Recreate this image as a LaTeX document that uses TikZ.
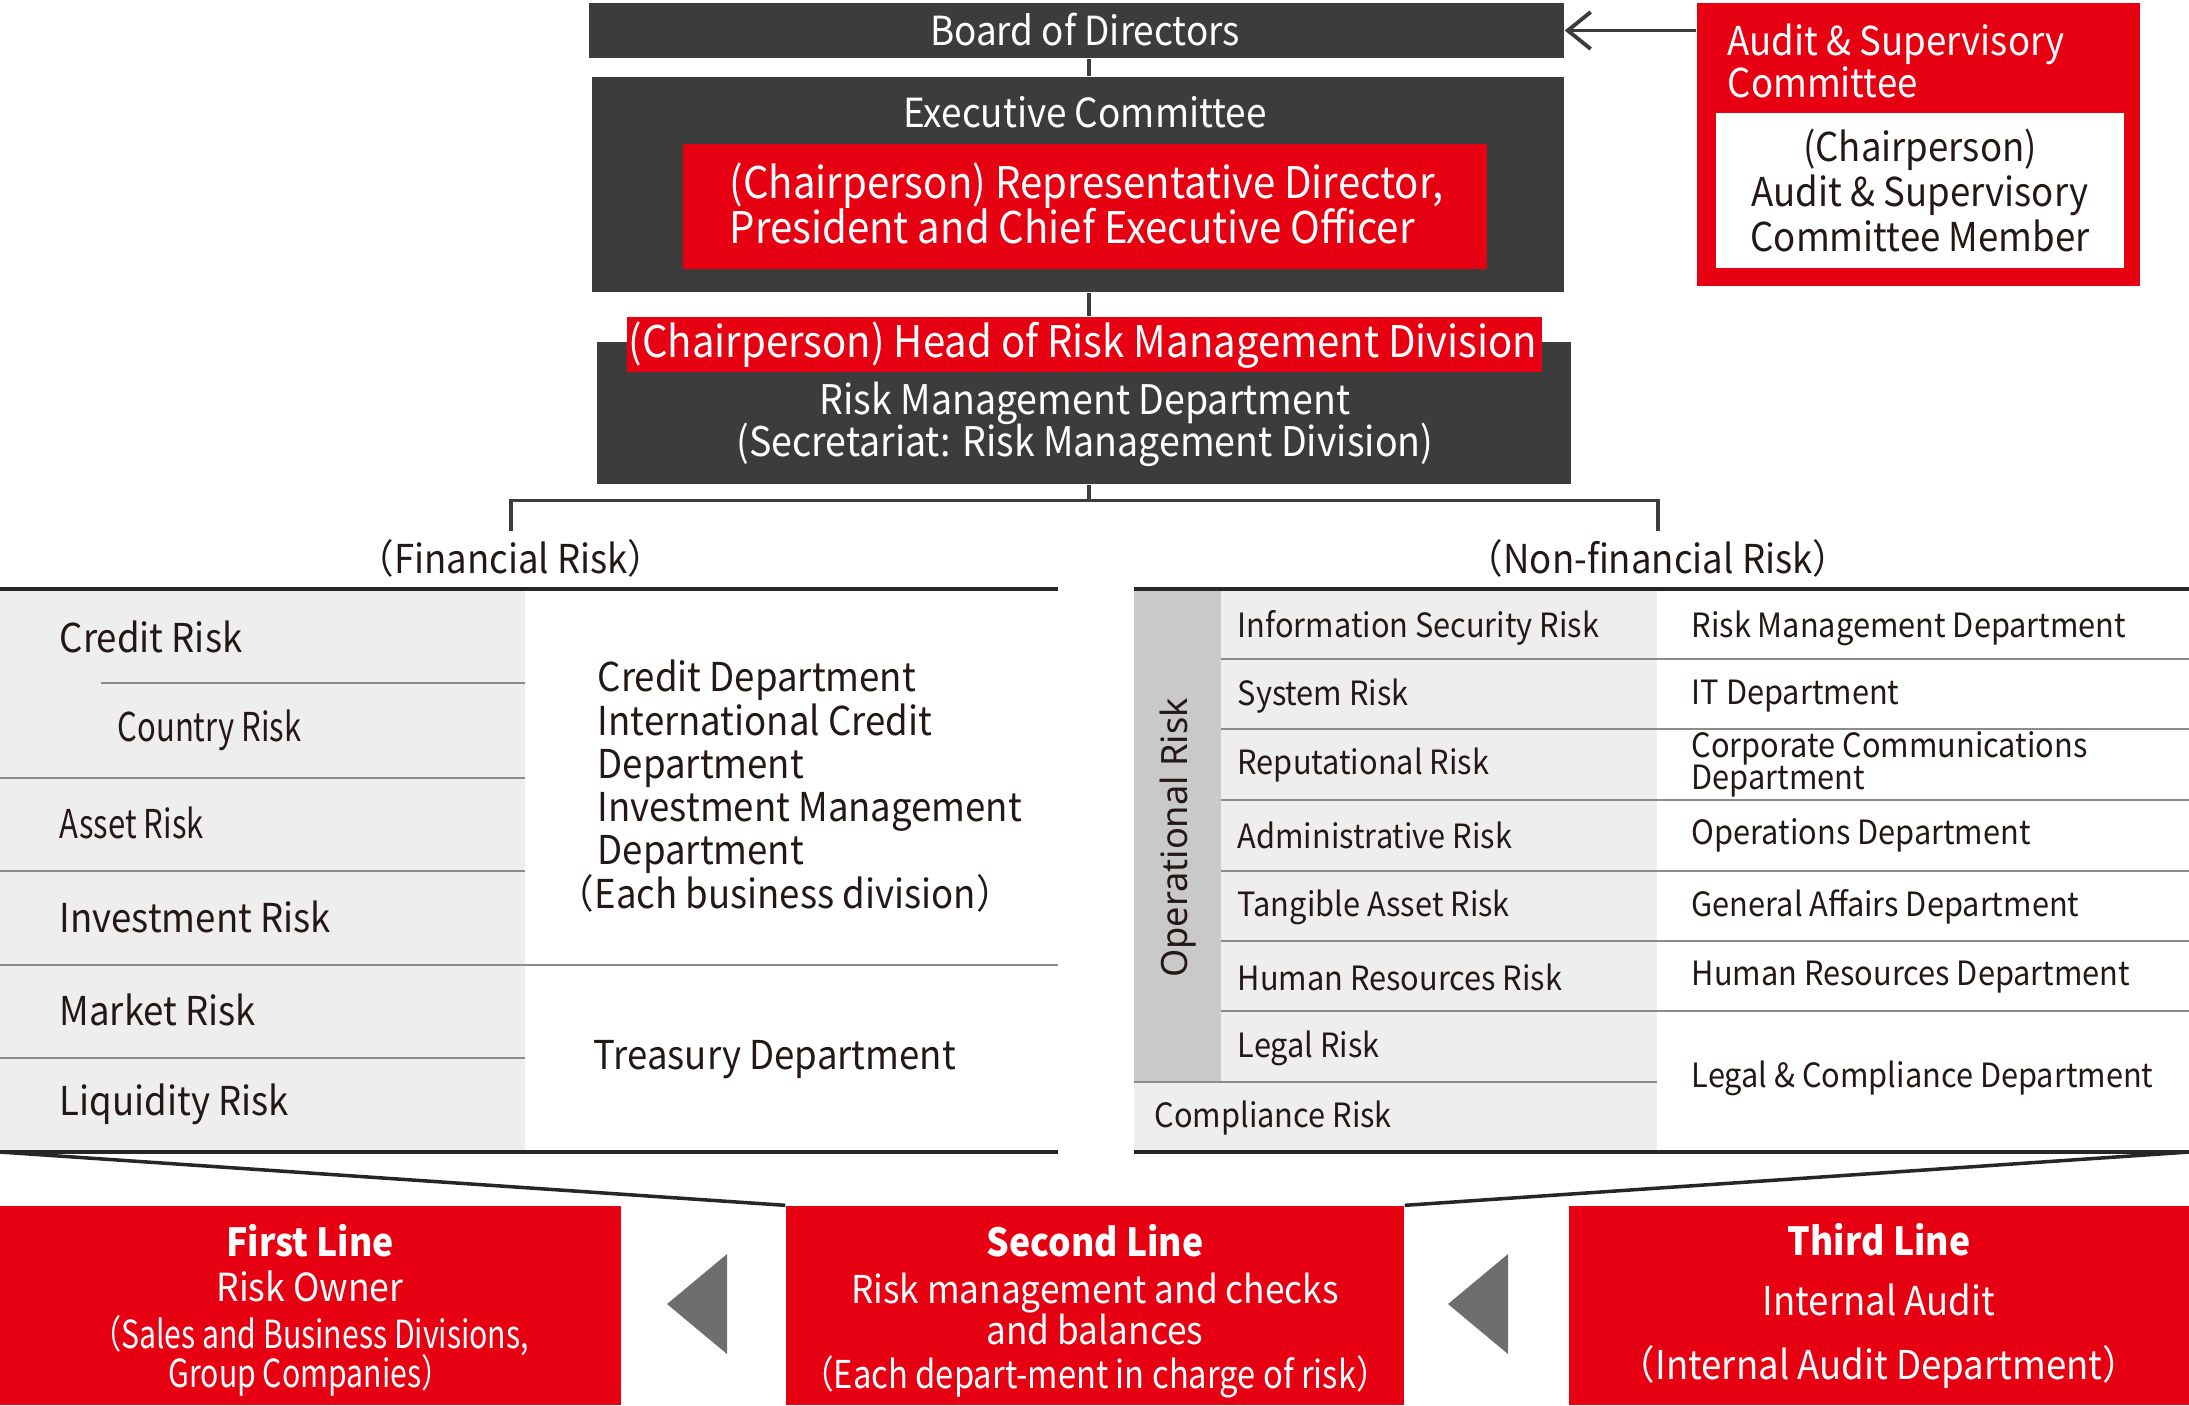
\documentclass[tikz,border=0pt]{standalone}
\usepackage{fontspec}
\setmainfont[FakeStretch=0.92]{Noto Sans CJK JP}
\newfontfamily\condfont[FakeStretch=0.78]{Noto Sans CJK JP}
\newfontfamily\midfont[FakeStretch=0.855]{Noto Sans CJK JP}
\newfontfamily\opfont{Noto Sans}
\usetikzlibrary{arrows.meta,fit}
\definecolor{sred}{HTML}{E60012}
\definecolor{sdark}{HTML}{3C3C3C}
\definecolor{slight}{HTML}{EEEEEE}
\definecolor{sgrey}{HTML}{C9C9C9}
\definecolor{stext}{HTML}{231815}
\definecolor{stri}{HTML}{6E6E6E}
\newcommand{\fsz}[2]{\fontsize{#1}{#2}\selectfont\lineskiplimit=-20pt\relax}
\begin{document}
\begin{tikzpicture}[x=0.01cm,y=-0.01cm,
  every node/.style={font=\fsz{11.3}{14}, text=stext, inner sep=0pt},
  darkbox/.style={fill=sdark},
  redbox/.style={fill=sred},
  tree/.style={draw=sdark, line width=0.9pt},
  sep/.style={draw=black!45, line width=0.5pt},
  rule/.style={draw=black!85, line width=1.3pt},
  risk/.style={anchor=west, font=\fsz{9.5}{12}},
  finrisk/.style={anchor=west, font=\fsz{11.3}{14}},
  heading/.style={font=\fsz{11.3}{14}}]
\useasboundingbox[fill=white] (0,0) rectangle (2189,1405);

% governance
\node[darkbox, fit={(589,3) (1564,58)}] (board) {};
\node[text=white, font=\fsz{11.4}{14}] (boardtext) at (1085,30) {Board of Directors};
\node[darkbox, fit={(592,77) (1564,292)}] (exec) {};
\node[text=white, font=\fsz{11.4}{14}] (exectitle) at (1085,112) {Executive Committee};
\node[redbox, fit={(683,144) (1487,269)}] (ceo) {};
\node[text=white, anchor=west, align=left, font=\fsz{12.4}{12.8}] (ceotext) at (729,203)
  {(Chairperson) Representative Director,\\President and Chief Executive Officer};
\node[darkbox, fit={(597,342) (1571,484)}] (rmd) {};
\node[text=white, align=center, font=\fsz{11.6}{11.9}] (rmdtext) at (1085,424)
  {Risk Management Department\\(Secretariat: Risk Management Division)};
\node[redbox, fit={(627,317) (1542,372)}] (head) {};
\node[text=white, font=\fsz{12.4}{14}] (headtext) at (1083,345)
  {(Chairperson) Head of Risk Management Division};

\node[redbox, fit={(1697,3) (2140,286)}] (audit) {};
\node[text=white, anchor=west, align=left, font=\fsz{11.3}{11.7}] (audittitle) at (1727,61)
  {Audit \& Supervisory\\Committee};
\node[fill=white, fit={(1716,113) (2124,268)}] (auditbox) {};
\node[align=center, font=\fsz{11.3}{12.8}] (audittext) at (auditbox.center)
  {(Chairperson)\\Audit \& Supervisory\\Committee Member};

\coordinate (spine) at (1089,0);
\draw[tree, -{Straight Barb[length=6.5pt,width=10.5pt]}, line width=1.1pt] (audit.west |- board) -- (board.east);
\draw[tree] (board.south -| spine) -- (exec.north -| spine);
\draw[tree] (exec.south -| spine) -- (head.north -| spine);
\coordinate (fin) at (511,531);
\coordinate (nonfin) at (1658,531);
\draw[tree] (rmd.south -| spine) -- ++(0,16) coordinate (fork);
\draw[tree] (fin) |- (fork) -| (nonfin);

\node[heading] (finhead) at (511,558) {（Financial Risk）};
\node[heading] (nonfinhead) at (1658,558) {（Non-financial Risk）};

% financial risk table
\fill[slight] (0,589) rectangle (525,1152);
\draw[sep] (101,683) -- (525,683);
\draw[sep] (0,778) -- (525,778);
\draw[sep] (0,871) -- (525,871);
\draw[sep] (0,965) -- (1058,965);
\draw[sep] (0,1058) -- (525,1058);
\draw[rule] (0,589) -- (1058,589);
\draw[rule] (0,1152) -- (1058,1152);
\node[finrisk] (credit) at (59,637) {Credit Risk};
\node[finrisk, font=\condfont\fsz{11.3}{14}] (country) at (117,730) {Country Risk};
\node[finrisk, font=\condfont\fsz{11.3}{14}] (asset) at (59,823) {Asset Risk};
\node[finrisk] (invest) at (59,917) {Investment Risk};
\node[finrisk] (market) at (59,1010) {Market Risk};
\node[finrisk] (liquid) at (59,1104) {Liquidity Risk};
\node[finrisk, align=left, font=\fsz{11.3}{12.3}] (creditdept) at (597,786)
  {Credit Department\\International Credit\\Department\\Investment Management\\Department\\\hspace*{-1em}（Each business division）};
\node[finrisk] (treasury) at (593,1060) {Treasury Department};

% non-financial risk table
\fill[slight] (1134,589) rectangle (1657,1152);
\fill[sgrey] (1134,589) rectangle (1221,1082);
\foreach \y in {659,729,800,871,941,1011}
  \draw[sep] (1221,\y) -- (2189,\y);
\draw[sep] (1134,1082) -- (1657,1082);
\draw[rule] (1134,589) -- (2189,589);
\draw[rule] (1134,1152) -- (2189,1152);
\node[rotate=90, font=\opfont\fsz{10.3}{14}] (oprisk) at (1178,838) {Operational Risk};
\node[risk] (infosec) at (1237,628) {Information Security Risk};
\node[risk] (system) at (1237,696) {System Risk};
\node[risk] (reput) at (1237,765) {Reputational Risk};
\node[risk] (admin) at (1237,835) {Administrative Risk};
\node[risk] (tangible) at (1237,907) {Tangible Asset Risk};
\node[risk] (hr) at (1237,977) {Human Resources Risk};
\node[risk] (legal) at (1237,1048) {Legal Risk};
\node[risk] (compl) at (1154,1118) {Compliance Risk};
\node[risk] (rmdept) at (1691,628) {Risk Management Department};
\node[risk] (itdept) at (1691,696) {IT Department};
\node[risk, align=left, font=\fsz{9.5}{9.1}] (ccdept) at (1691,764) {Corporate Communications\\Department};
\node[risk] (opsdept) at (1691,835) {Operations Department};
\node[risk] (gadept) at (1691,907) {General Affairs Department};
\node[risk] (hrdept) at (1691,977) {Human Resources Department};
\node[risk] (lcdept) at (1691,1078) {Legal \& Compliance Department};

% three lines of defence
\node[redbox, fit={(0,1206) (621,1405)}] (first) {};
\node[redbox, fit={(786,1206) (1404,1405)}] (second) {};
\node[redbox, fit={(1569,1206) (2189,1405)}] (third) {};
\node[text=white, align=center, font=\fsz{11}{11.1}] (firsttext) at (310,1310)
  {{\bfseries First Line}\\[1.7pt]Risk Owner\\[2.3pt]{\condfont（Sales and Business Divisions,}\\{\condfont Group Companies）}};
\node[text=white, align=center, font=\fsz{10.9}{11.7}] (secondtext) at (1095,1311)
  {{\bfseries\fontsize{11}{11.7}\selectfont Second Line}\\[1.7pt]Risk management and checks\\and balances\\[0.85pt]{\midfont（Each depart-ment in charge of risk）}};
\node[text=white, align=center, font=\fsz{11.3}{11.7}] (thirdtext) at (1879,1306)
  {{\bfseries\fontsize{11}{11.7}\selectfont Third Line}\\[5.4pt]Internal Audit\\[6.3pt]（Internal Audit Department）};
\fill[stri] (727,1254) -- (667,1304) -- (727,1354) -- cycle;
\fill[stri] (1508,1254) -- (1448,1304) -- (1508,1354) -- cycle;
\coordinate (finend) at (0,1152);
\coordinate (nonfinend) at (2189,1152);
\draw[rule, line width=1pt] (finend) -- (second.north west);
\draw[rule, line width=1pt] (nonfinend) -- (second.north east);
\end{tikzpicture}
\end{document}
